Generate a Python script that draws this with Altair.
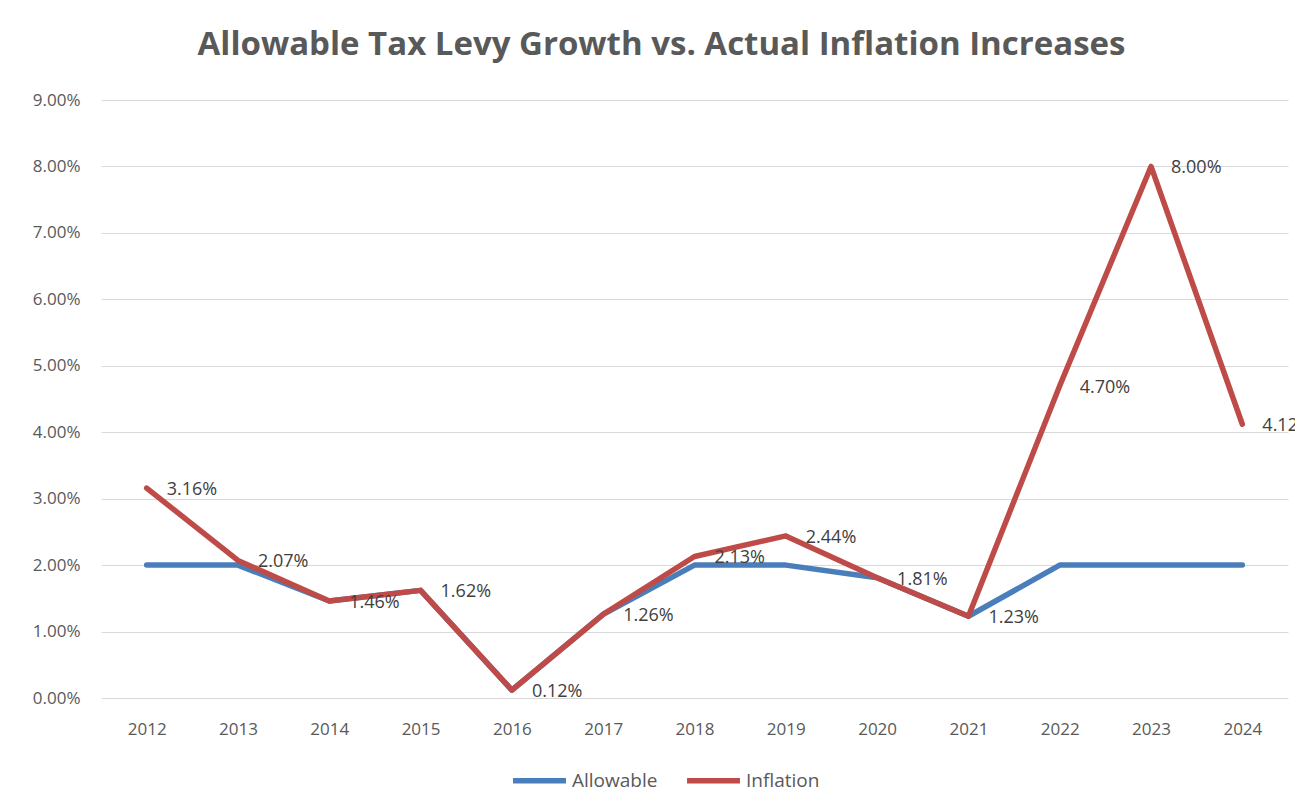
import altair as alt
import pandas as pd

years = [2012, 2013, 2014, 2015, 2016, 2017, 2018, 2019, 2020, 2021, 2022, 2023, 2024]
allowable = [0.0200, 0.0200, 0.0146, 0.0162, 0.0012, 0.0126, 0.0200, 0.0200, 0.0181, 0.0123, 0.0200, 0.0200, 0.0200]
inflation = [0.0316, 0.0207, 0.0146, 0.0162, 0.0012, 0.0126, 0.0213, 0.0244, 0.0181, 0.0123, 0.0470, 0.0800, 0.0412]
series_names = ["Allowable", "Inflation"]
series_colors = ["#4A7EBB", "#BE4B48"]

rows = []
for y, a in zip(years, allowable):
    rows.append({"year": str(y), "series": "Allowable", "value": a})
for y, v in zip(years, inflation):
    rows.append({"year": str(y), "series": "Inflation", "value": v})
df = pd.DataFrame(rows)

FONT = "Open Sans"

x_enc = alt.X("year:O", scale=alt.Scale(type="point", padding=0.5),
              axis=alt.Axis(title=None, labelAngle=0, ticks=False, domain=False,
                            labelFontSize=17, labelColor="#595959", labelFont=FONT,
                            labelPadding=23, grid=False))
y_enc = alt.Y("value:Q", scale=alt.Scale(domain=[0, 0.09], nice=False),
              axis=alt.Axis(title=None, format=".2%", values=[i / 100 for i in range(10)],
                            ticks=False, domain=False, labelFontSize=17,
                            labelColor="#595959", labelFont=FONT, labelPadding=21,
                            gridColor="#D9D9D9", gridWidth=1))

lines = alt.Chart(df).mark_line(strokeWidth=5.5, strokeCap="round", strokeJoin="round").encode(
    x=x_enc,
    y=y_enc,
    color=alt.Color("series:N", scale=alt.Scale(domain=series_names, range=series_colors),
                    legend=alt.Legend(title=None, orient="none", direction="horizontal",
                                      legendX=409, legendY=651, symbolType="stroke",
                                      symbolSize=2800, symbolStrokeWidth=5.5,
                                      labelFontSize=19, labelColor="#595959", labelFont=FONT,
                                      labelOffset=3, columnPadding=18)),
)

labels = alt.Chart(df).transform_filter(alt.datum.series == "Inflation").mark_text(
    align="left", baseline="middle", dx=20, dy=2, fontSize=18, color="#404040", font=FONT
).encode(
    x="year:O",
    y="value:Q",
    text=alt.Text("value:Q", format=".2%"),
)

chart = (lines + labels).properties(
    width=1187, height=598,
    autosize=alt.AutoSizeParams(type="none"),
    padding={"left": 93, "top": 92, "right": 7, "bottom": 100},
    title=alt.TitleParams("Allowable Tax Levy Growth vs. Actual Inflation Increases",
                          fontSize=33, font=FONT, fontWeight="bold", color="#595959",
                          anchor="middle", dx=-33, offset=29),
).configure_view(stroke=None)

chart.save("out.html", embed_options={"renderer": "svg", "actions": False})
